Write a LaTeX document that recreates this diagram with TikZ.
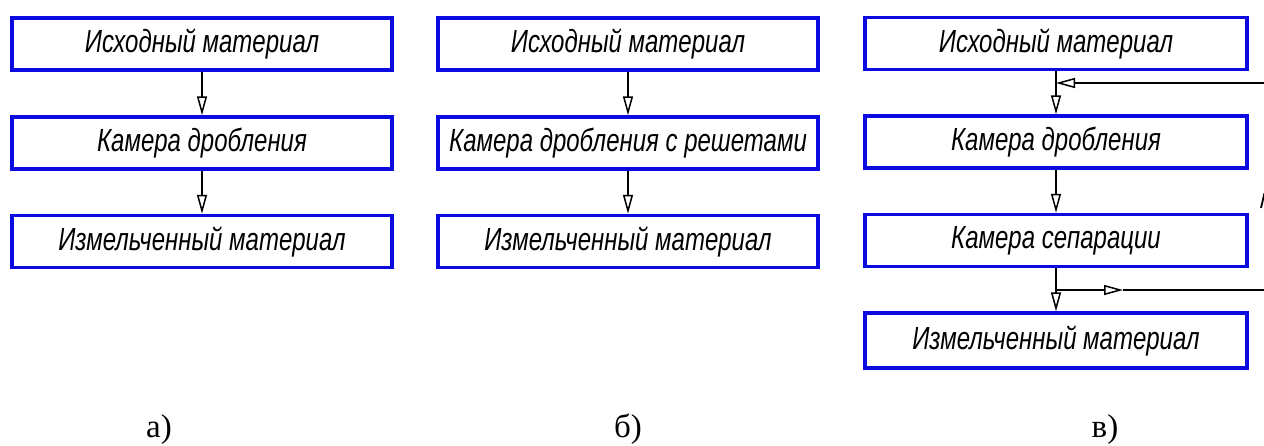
\documentclass[tikz,border=0pt]{standalone}
\usepackage{fontspec}
\setmainfont{Liberation Serif}
\newfontfamily\gostfont{Liberation Sans}[ItalicFont={Liberation Sans Italic}, FakeStretch=0.75]
\usetikzlibrary{arrows.meta}
\definecolor{boxblue}{RGB}{10,10,225}
\tikzset{
  flowbox/.style={draw=boxblue, line width=3.5pt, minimum width=380pt, minimum height=52pt, inner sep=0pt,
    font=\gostfont\itshape\fontsize{32}{36}\selectfont},
  flowarrow/.style={line width=1.5pt, -{Triangle[open, length=19pt, width=10pt, line width=1.5pt]}},
  flowline/.style={line width=1.5pt},
  caption/.style={font=\fontsize{33}{36}\selectfont, inner sep=0pt, anchor=base}
}
\begin{document}
\begin{tikzpicture}[x=1pt,y=-1pt]
\useasboundingbox (0,0) rectangle (1264,445);
% panel a
\node[flowbox] (a1) at (202,44) {Исходный материал};
\node[flowbox] (a2) at (202,143) {Камера дробления};
\node[flowbox] (a3) at (202,241.5) {Измельченный материал};
\draw[flowarrow] (a1) -- (a2);
\draw[flowarrow] (a2) -- (a3);
% panel b
\node[flowbox] (b1) at (628,44) {Исходный материал};
\node[flowbox] (b2) at (628,143) {Камера дробления с решетами};
\node[flowbox] (b3) at (628,241.5) {Измельченный материал};
\draw[flowarrow] (b1) -- (b2);
\draw[flowarrow] (b2) -- (b3);
% panel c
\node[flowbox, minimum width=382pt] (c1) at (1056,43.5) {Исходный материал};
\node[flowbox, minimum width=382pt] (c2) at (1056,142) {Камера дробления};
\node[flowbox, minimum width=382pt] (c3) at (1056,240.5) {Камера сепарации};
\node[flowbox, minimum width=382pt, minimum height=55pt] (c4) at (1056,340.5) {Измельченный материал};
\draw[flowarrow] (c1) -- (c2);
\draw[flowarrow] (c2) -- (c3);
\draw[flowarrow] (c3) -- (c4);
\coordinate (fbR) at (1266,83);
\coordinate (j1) at (1056,83);
\draw[flowarrow] (fbR) -- (j1);
\coordinate (j2) at (1056,290);
\coordinate (m2) at (1123,290);
\coordinate (outR) at (1266,290);
\draw[flowarrow] (j2) -- (m2);
\draw[flowline] (m2) -- (outR);
\coordinate (fragA) at (1261,208);
\coordinate (fragB) at (1264.5,193);
\draw[line width=1.8pt] (fragA) -- (fragB);
% captions
\node[caption] (la) at (159,437) {а)};
\node[caption] (lb) at (628,437) {б)};
\node[caption] (lc) at (1105,437) {в)};
\end{tikzpicture}
\end{document}
